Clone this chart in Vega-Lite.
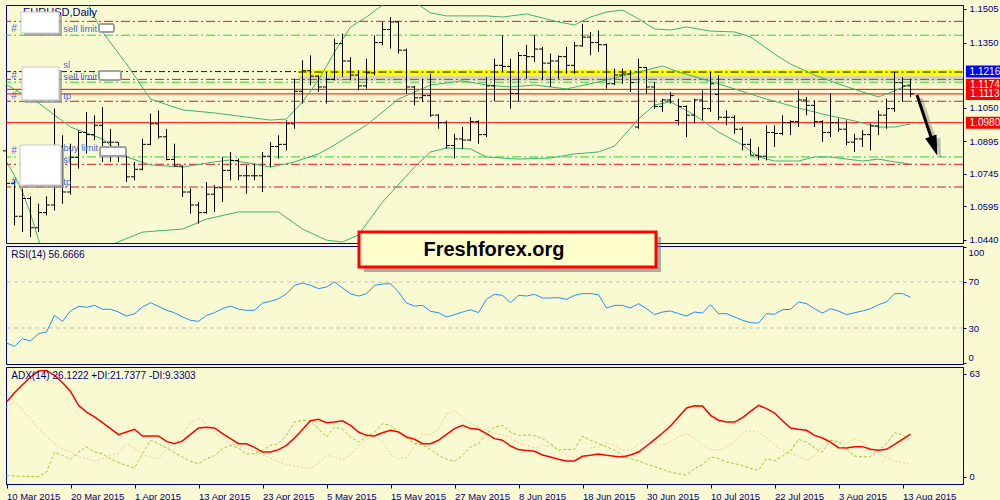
{
"$schema":"https://vega.github.io/schema/vega-lite/v6.json",
"background":"#fafad2",
"padding":{"left":2,"top":3,"right":0,"bottom":0},
"spacing":3,
"bounds":"flush",
"config":{"view":{"stroke":"#000080","strokeWidth":1,"fill":"#fafad2"},
"axis":{"domainColor":"#000080","tickColor":"#000080","labelColor":"#000080","labelFont":"Liberation Sans","labelFontSize":9.5,"grid":false,"tickSize":3,"labelOverlap":false,"labelFlush":false},
"text":{"font":"Liberation Sans"}},
"datasets":{
"bars":[
{"i":0,"o":1.0850,"h":1.0860,"l":1.0660,"c":1.0700,"rsi":17,"adx":45.7,"pdi":1,"mdi":42.7},
{"i":1,"o":1.0700,"h":1.0714,"l":1.0506,"c":1.0548,"rsi":14.1,"adx":51.4,"pdi":0.6,"mdi":46.1},
{"i":2,"o":1.0548,"h":1.0676,"l":1.0475,"c":1.0630,"rsi":20.7,"adx":56.3,"pdi":0.4,"mdi":40.7},
{"i":3,"o":1.0630,"h":1.0640,"l":1.0452,"c":1.0495,"rsi":18.7,"adx":61,"pdi":0.3,"mdi":35.2},
{"i":4,"o":1.0495,"h":1.0606,"l":1.0475,"c":1.0565,"rsi":25.1,"adx":64.6,"pdi":0.2,"mdi":29.5},
{"i":5,"o":1.0565,"h":1.0640,"l":1.0552,"c":1.0600,"rsi":26.5,"adx":65,"pdi":3,"mdi":24.4},
{"i":6,"o":1.0600,"h":1.1045,"l":1.0575,"c":1.0870,"rsi":41,"adx":62,"pdi":15.2,"mdi":20.3},
{"i":7,"o":1.0870,"h":1.0922,"l":1.0606,"c":1.0660,"rsi":35.8,"adx":57.5,"pdi":13.2,"mdi":16.9},
{"i":8,"o":1.0660,"h":1.0883,"l":1.0648,"c":1.0820,"rsi":44.8,"adx":52.2,"pdi":10.8,"mdi":15.2},
{"i":9,"o":1.0820,"h":1.0945,"l":1.0768,"c":1.0935,"rsi":48.8,"adx":43.7,"pdi":15.2,"mdi":12.6},
{"i":10,"o":1.0935,"h":1.1029,"l":1.0837,"c":1.0925,"rsi":48,"adx":39.6,"pdi":18.3,"mdi":11.2},
{"i":11,"o":1.0925,"h":1.1014,"l":1.0899,"c":1.0968,"rsi":49.7,"adx":36.6,"pdi":15.2,"mdi":9.6},
{"i":12,"o":1.0968,"h":1.1052,"l":1.0799,"c":1.0890,"rsi":46.3,"adx":33.1,"pdi":14.2,"mdi":11.2},
{"i":13,"o":1.0890,"h":1.0952,"l":1.0799,"c":1.0890,"rsi":46.3,"adx":29.5,"pdi":11.2,"mdi":13.4},
{"i":14,"o":1.0890,"h":1.0891,"l":1.0799,"c":1.0830,"rsi":43.9,"adx":25.8,"pdi":8.7,"mdi":14.2},
{"i":15,"o":1.0830,"h":1.0845,"l":1.0706,"c":1.0730,"rsi":40.4,"adx":27.4,"pdi":7.1,"mdi":20.3},
{"i":16,"o":1.0730,"h":1.0799,"l":1.0714,"c":1.0765,"rsi":42.4,"adx":29.1,"pdi":5.5,"mdi":17.7},
{"i":17,"o":1.0765,"h":1.0906,"l":1.0760,"c":1.0880,"rsi":48.3,"adx":25,"pdi":14.2,"mdi":13.6},
{"i":18,"o":1.0880,"h":1.1022,"l":1.0876,"c":1.0975,"rsi":52,"adx":25,"pdi":22.4,"mdi":12.2},
{"i":19,"o":1.0975,"h":1.1037,"l":1.0906,"c":1.0915,"rsi":48.8,"adx":25,"pdi":20.3,"mdi":11.2},
{"i":20,"o":1.0915,"h":1.0952,"l":1.0806,"c":1.0810,"rsi":45.4,"adx":21.7,"pdi":17.7,"mdi":17.3},
{"i":21,"o":1.0810,"h":1.0883,"l":1.0775,"c":1.0780,"rsi":43.3,"adx":20.3,"pdi":14.8,"mdi":20.1},
{"i":22,"o":1.0780,"h":1.0783,"l":1.0637,"c":1.0660,"rsi":39.6,"adx":22,"pdi":12.2,"mdi":25.8},
{"i":23,"o":1.0660,"h":1.0676,"l":1.0560,"c":1.0600,"rsi":36.7,"adx":26,"pdi":9.6,"mdi":33.1},
{"i":24,"o":1.0600,"h":1.0614,"l":1.0514,"c":1.0565,"rsi":35.8,"adx":29.9,"pdi":8.1,"mdi":36},
{"i":25,"o":1.0565,"h":1.0706,"l":1.0560,"c":1.0650,"rsi":41,"adx":30.3,"pdi":11.2,"mdi":32.5},
{"i":26,"o":1.0650,"h":1.0691,"l":1.0568,"c":1.0680,"rsi":43.3,"adx":29.9,"pdi":13,"mdi":27.4},
{"i":27,"o":1.0680,"h":1.0822,"l":1.0614,"c":1.0760,"rsi":46.8,"adx":26.4,"pdi":17.3,"mdi":23},
{"i":28,"o":1.0760,"h":1.0845,"l":1.0714,"c":1.0805,"rsi":49.1,"adx":23.4,"pdi":19.3,"mdi":20.3},
{"i":29,"o":1.0805,"h":1.0814,"l":1.0714,"c":1.0735,"rsi":46.3,"adx":20.3,"pdi":17.7,"mdi":18.9},
{"i":30,"o":1.0735,"h":1.0783,"l":1.0652,"c":1.0735,"rsi":45.4,"adx":20.3,"pdi":14,"mdi":17.3},
{"i":31,"o":1.0735,"h":1.0791,"l":1.0714,"c":1.0735,"rsi":45.4,"adx":18.1,"pdi":14.2,"mdi":16.1},
{"i":32,"o":1.0735,"h":1.0845,"l":1.0660,"c":1.0825,"rsi":51.7,"adx":15.2,"pdi":16.3,"mdi":13.6},
{"i":33,"o":1.0825,"h":1.0891,"l":1.0775,"c":1.0870,"rsi":53.2,"adx":15.2,"pdi":19.3,"mdi":11.6},
{"i":34,"o":1.0870,"h":1.0922,"l":1.0814,"c":1.0880,"rsi":55.5,"adx":16.7,"pdi":20.3,"mdi":9.1},
{"i":35,"o":1.0880,"h":1.0991,"l":1.0852,"c":1.0975,"rsi":59.8,"adx":19.3,"pdi":25.4,"mdi":7.7},
{"i":36,"o":1.0975,"h":1.1183,"l":1.0952,"c":1.1125,"rsi":67.1,"adx":23.8,"pdi":33.5,"mdi":6.7},
{"i":37,"o":1.1125,"h":1.1268,"l":1.1068,"c":1.1220,"rsi":69.1,"adx":28.9,"pdi":34.6,"mdi":5.9},
{"i":38,"o":1.1220,"h":1.1291,"l":1.1153,"c":1.1195,"rsi":67.1,"adx":34.3,"pdi":33.9,"mdi":5.1},
{"i":39,"o":1.1195,"h":1.1199,"l":1.1122,"c":1.1145,"rsi":64.2,"adx":35.2,"pdi":29.5,"mdi":8.5},
{"i":40,"o":1.1145,"h":1.1214,"l":1.1068,"c":1.1180,"rsi":65.7,"adx":33.1,"pdi":24.4,"mdi":13.2},
{"i":41,"o":1.1180,"h":1.1368,"l":1.1175,"c":1.1345,"rsi":70,"adx":33.5,"pdi":30.5,"mdi":12.2},
{"i":42,"o":1.1345,"h":1.1391,"l":1.1191,"c":1.1265,"rsi":64.8,"adx":34.3,"pdi":29.1,"mdi":10.6},
{"i":43,"o":1.1265,"h":1.1283,"l":1.1176,"c":1.1200,"rsi":59.8,"adx":31.5,"pdi":24.4,"mdi":13.2},
{"i":44,"o":1.1200,"h":1.1222,"l":1.1129,"c":1.1150,"rsi":57.8,"adx":27.4,"pdi":21.3,"mdi":19.3},
{"i":45,"o":1.1150,"h":1.1276,"l":1.1137,"c":1.1210,"rsi":59.8,"adx":25.4,"pdi":24.4,"mdi":22.8},
{"i":46,"o":1.1210,"h":1.1383,"l":1.1199,"c":1.1350,"rsi":67.1,"adx":25,"pdi":27.4,"mdi":25},
{"i":47,"o":1.1350,"h":1.1445,"l":1.1337,"c":1.1410,"rsi":68.3,"adx":27,"pdi":32.5,"mdi":21.3},
{"i":48,"o":1.1410,"h":1.1468,"l":1.1322,"c":1.1445,"rsi":68.5,"adx":28.5,"pdi":31.5,"mdi":14.2},
{"i":49,"o":1.1445,"h":1.1448,"l":1.1299,"c":1.1315,"rsi":61.3,"adx":27.4,"pdi":27.8,"mdi":11.2},
{"i":50,"o":1.1315,"h":1.1322,"l":1.1114,"c":1.1145,"rsi":51.7,"adx":24.4,"pdi":23.8,"mdi":12},
{"i":51,"o":1.1145,"h":1.1150,"l":1.1060,"c":1.1095,"rsi":49.1,"adx":23,"pdi":20.3,"mdi":19.3},
{"i":52,"o":1.1095,"h":1.1183,"l":1.1076,"c":1.1105,"rsi":49.7,"adx":20.3,"pdi":19.7,"mdi":26.2},
{"i":53,"o":1.1105,"h":1.1206,"l":1.1006,"c":1.1015,"rsi":44.5,"adx":20.3,"pdi":16.9,"mdi":25.8},
{"i":54,"o":1.1015,"h":1.1020,"l":1.0952,"c":1.0980,"rsi":43.3,"adx":22.4,"pdi":13.2,"mdi":29.5},
{"i":55,"o":1.0980,"h":1.0990,"l":1.0860,"c":1.0875,"rsi":39.6,"adx":26,"pdi":10.8,"mdi":38.4},
{"i":56,"o":1.0875,"h":1.0929,"l":1.0814,"c":1.0905,"rsi":41.6,"adx":29.5,"pdi":9.6,"mdi":40.4},
{"i":57,"o":1.0905,"h":1.0960,"l":1.0860,"c":1.0900,"rsi":43.9,"adx":31.5,"pdi":13.2,"mdi":36.4},
{"i":58,"o":1.0900,"h":1.1006,"l":1.0895,"c":1.0985,"rsi":45.9,"adx":29.5,"pdi":18.3,"mdi":32.5},
{"i":59,"o":1.0985,"h":1.0991,"l":1.0883,"c":1.0925,"rsi":43.3,"adx":29.1,"pdi":20.3,"mdi":30.5},
{"i":60,"o":1.0925,"h":1.1191,"l":1.0914,"c":1.1150,"rsi":55,"adx":26.4,"pdi":26.4,"mdi":28.5},
{"i":61,"o":1.1150,"h":1.1276,"l":1.1079,"c":1.1245,"rsi":59.3,"adx":23.4,"pdi":30.5,"mdi":26.4},
{"i":62,"o":1.1245,"h":1.1383,"l":1.1214,"c":1.1240,"rsi":58.4,"adx":22.4,"pdi":31.5,"mdi":25.8},
{"i":63,"o":1.1240,"h":1.1276,"l":1.1045,"c":1.1115,"rsi":52,"adx":18.9,"pdi":27.4,"mdi":23.8},
{"i":64,"o":1.1115,"h":1.1306,"l":1.1079,"c":1.1290,"rsi":58.4,"adx":16.7,"pdi":25.4,"mdi":20.7},
{"i":65,"o":1.1290,"h":1.1340,"l":1.1183,"c":1.1285,"rsi":57.8,"adx":16.1,"pdi":25.6,"mdi":19.3},
{"i":66,"o":1.1285,"h":1.1383,"l":1.1260,"c":1.1320,"rsi":59.3,"adx":15.7,"pdi":25.4,"mdi":17.7},
{"i":67,"o":1.1320,"h":1.1330,"l":1.1176,"c":1.1255,"rsi":56.1,"adx":13.4,"pdi":23.4,"mdi":19.3},
{"i":68,"o":1.1255,"h":1.1299,"l":1.1145,"c":1.1265,"rsi":56.1,"adx":12.2,"pdi":20.3,"mdi":18.9},
{"i":69,"o":1.1265,"h":1.1291,"l":1.1183,"c":1.1285,"rsi":56.4,"adx":10.8,"pdi":16.3,"mdi":16.3},
{"i":70,"o":1.1285,"h":1.1330,"l":1.1206,"c":1.1245,"rsi":54.9,"adx":9.8,"pdi":16.9,"mdi":13.6},
{"i":71,"o":1.1245,"h":1.1353,"l":1.1206,"c":1.1335,"rsi":58.4,"adx":9.8,"pdi":16.9,"mdi":11.6},
{"i":72,"o":1.1335,"h":1.1437,"l":1.1330,"c":1.1375,"rsi":59.9,"adx":12.6,"pdi":25,"mdi":14.2},
{"i":73,"o":1.1375,"h":1.1399,"l":1.1291,"c":1.1350,"rsi":59.9,"adx":13.2,"pdi":22.4,"mdi":17.7},
{"i":74,"o":1.1350,"h":1.1406,"l":1.1306,"c":1.1340,"rsi":59,"adx":14,"pdi":20.3,"mdi":18.3},
{"i":75,"o":1.1340,"h":1.1345,"l":1.1137,"c":1.1160,"rsi":47.4,"adx":13.2,"pdi":18.5,"mdi":20.9},
{"i":76,"o":1.1160,"h":1.1230,"l":1.1153,"c":1.1200,"rsi":49.7,"adx":12.6,"pdi":16.3,"mdi":19.3},
{"i":77,"o":1.1200,"h":1.1230,"l":1.1160,"c":1.1205,"rsi":49.7,"adx":12.2,"pdi":13.2,"mdi":16.7},
{"i":78,"o":1.1205,"h":1.1222,"l":1.1122,"c":1.1165,"rsi":47.4,"adx":13.4,"pdi":11.2,"mdi":16.3},
{"i":79,"o":1.0960,"h":1.1276,"l":1.0952,"c":1.1235,"rsi":51.2,"adx":15.2,"pdi":9.8,"mdi":20.3},
{"i":80,"o":1.1235,"h":1.1237,"l":1.1114,"c":1.1145,"rsi":46.8,"adx":18.9,"pdi":7.9,"mdi":22.4},
{"i":81,"o":1.1145,"h":1.1168,"l":1.1045,"c":1.1055,"rsi":41.6,"adx":22.8,"pdi":6.3,"mdi":20.5},
{"i":82,"o":1.1055,"h":1.1091,"l":1.1030,"c":1.1085,"rsi":43.9,"adx":26.8,"pdi":4.7,"mdi":19.3},
{"i":83,"o":1.1085,"h":1.1122,"l":1.1068,"c":1.1105,"rsi":44.8,"adx":31.1,"pdi":3,"mdi":21.3},
{"i":84,"o":1.0990,"h":1.1091,"l":1.0968,"c":1.1055,"rsi":42.5,"adx":36.6,"pdi":2,"mdi":24.4},
{"i":85,"o":1.1055,"h":1.1060,"l":1.0914,"c":1.1015,"rsi":40.4,"adx":42.1,"pdi":1,"mdi":26.4},
{"i":86,"o":1.1015,"h":1.1091,"l":1.0976,"c":1.1085,"rsi":43.9,"adx":43.5,"pdi":5.1,"mdi":23.8},
{"i":87,"o":1.1085,"h":1.1129,"l":1.0991,"c":1.1045,"rsi":43,"adx":43.3,"pdi":7.7,"mdi":19.3},
{"i":88,"o":1.1045,"h":1.1214,"l":1.1030,"c":1.1160,"rsi":50.3,"adx":37.6,"pdi":12.2,"mdi":16.9},
{"i":89,"o":1.1110,"h":1.1199,"l":1.0991,"c":1.1005,"rsi":42.5,"adx":34.6,"pdi":11.2,"mdi":16.3},
{"i":90,"o":1.1005,"h":1.1037,"l":1.0968,"c":1.1005,"rsi":42.5,"adx":33.5,"pdi":9.1,"mdi":18.1},
{"i":91,"o":1.1005,"h":1.1014,"l":1.0929,"c":1.0950,"rsi":39.6,"adx":33.5,"pdi":8.1,"mdi":21.7},
{"i":92,"o":1.0950,"h":1.0960,"l":1.0852,"c":1.0880,"rsi":36.7,"adx":36.2,"pdi":7.1,"mdi":27},
{"i":93,"o":1.0880,"h":1.0906,"l":1.0829,"c":1.0830,"rsi":34.6,"adx":40,"pdi":5.1,"mdi":28.3},
{"i":94,"o":1.0830,"h":1.0868,"l":1.0806,"c":1.0825,"rsi":34.3,"adx":43.7,"pdi":4.1,"mdi":27.4},
{"i":95,"o":1.0825,"h":1.0968,"l":1.0806,"c":1.0935,"rsi":42.5,"adx":41.7,"pdi":11.2,"mdi":24.2},
{"i":96,"o":1.0935,"h":1.0968,"l":1.0868,"c":1.0930,"rsi":41.9,"adx":39,"pdi":9.8,"mdi":19.3},
{"i":97,"o":1.0930,"h":1.1014,"l":1.0922,"c":1.0980,"rsi":45.9,"adx":34.3,"pdi":12.8,"mdi":16.3},
{"i":98,"o":1.0980,"h":1.0991,"l":1.0922,"c":1.0985,"rsi":46.2,"adx":29.9,"pdi":15.7,"mdi":14.2},
{"i":99,"o":1.0985,"h":1.1129,"l":1.0960,"c":1.1085,"rsi":52.6,"adx":29.1,"pdi":23,"mdi":12.8},
{"i":100,"o":1.1085,"h":1.1099,"l":1.1014,"c":1.1060,"rsi":51.2,"adx":28.5,"pdi":21.3,"mdi":10.2},
{"i":101,"o":1.1060,"h":1.1083,"l":1.0960,"c":1.0985,"rsi":46.8,"adx":25.4,"pdi":17.7,"mdi":12.8},
{"i":102,"o":1.0985,"h":1.0991,"l":1.0891,"c":1.0935,"rsi":43,"adx":23.8,"pdi":15.2,"mdi":19.3},
{"i":103,"o":1.0935,"h":1.1114,"l":1.0914,"c":1.0980,"rsi":46.8,"adx":21.3,"pdi":22.4,"mdi":22.8},
{"i":104,"o":1.0980,"h":1.0999,"l":1.0937,"c":1.0950,"rsi":44.8,"adx":17.9,"pdi":21.3,"mdi":21.3},
{"i":105,"o":1.0950,"h":1.0991,"l":1.0876,"c":1.0890,"rsi":41.6,"adx":17.7,"pdi":16.9,"mdi":20.3},
{"i":106,"o":1.0890,"h":1.0929,"l":1.0845,"c":1.0905,"rsi":43.3,"adx":18.5,"pdi":12.8,"mdi":23.4},
{"i":107,"o":1.0905,"h":1.0945,"l":1.0868,"c":1.0925,"rsi":44.8,"adx":18.5,"pdi":12.2,"mdi":21.3},
{"i":108,"o":1.0925,"h":1.0976,"l":1.0852,"c":1.0965,"rsi":46.8,"adx":16.9,"pdi":12.4,"mdi":16.3},
{"i":109,"o":1.0965,"h":1.1037,"l":1.0922,"c":1.1015,"rsi":50.3,"adx":16.3,"pdi":16.3,"mdi":14.8},
{"i":110,"o":1.1015,"h":1.1091,"l":1.0952,"c":1.1045,"rsi":52.6,"adx":16.9,"pdi":20.3,"mdi":11.6},
{"i":111,"o":1.1045,"h":1.1214,"l":1.1030,"c":1.1165,"rsi":59.9,"adx":19.9,"pdi":27,"mdi":9.6},
{"i":112,"o":1.1165,"h":1.1191,"l":1.1076,"c":1.1150,"rsi":59.9,"adx":23,"pdi":25.8,"mdi":8.7},
{"i":113,"o":1.1150,"h":1.1183,"l":1.1099,"c":1.1113,"rsi":56.7,"adx":26.1,"pdi":21.7,"mdi":8}
],
"bbu":[{"i":0,"v":1.19},{"i":5,"v":1.178},{"i":8,"v":1.165},{"i":10,"v":1.1537},{"i":12,"v":1.1399},{"i":15,"v":1.1251},{"i":18,"v":1.1089},{"i":22,"v":1.1039},{"i":26,"v":1.1025},{"i":30,"v":1.1006},{"i":33,"v":1.0992},{"i":35,"v":1.0997},{"i":37,"v":1.1076},{"i":39,"v":1.1177},{"i":41,"v":1.1306},{"i":43,"v":1.1422},{"i":45,"v":1.1468},{"i":47,"v":1.1523},{"i":49,"v":1.1551},{"i":51,"v":1.1537},{"i":53,"v":1.1487},{"i":55,"v":1.1473},{"i":57,"v":1.1473},{"i":60,"v":1.1473},{"i":62,"v":1.1468},{"i":65,"v":1.1482},{"i":69,"v":1.1445},{"i":71,"v":1.1431},{"i":73,"v":1.1468},{"i":75,"v":1.1491},{"i":77,"v":1.15},{"i":79,"v":1.1459},{"i":81,"v":1.1413},{"i":83,"v":1.1408},{"i":85,"v":1.1422},{"i":88,"v":1.1403},{"i":91,"v":1.1399},{"i":93,"v":1.1376},{"i":96,"v":1.1297},{"i":98,"v":1.1251},{"i":101,"v":1.12},{"i":104,"v":1.1159},{"i":107,"v":1.1122},{"i":109,"v":1.1099},{"i":111,"v":1.1127},{"i":113,"v":1.1159}],
"bbm":[{"i":0,"v":1.1155},{"i":4,"v":1.1071},{"i":8,"v":1.096},{"i":12,"v":1.0905},{"i":15,"v":1.0822},{"i":18,"v":1.0785},{"i":22,"v":1.0775},{"i":26,"v":1.0799},{"i":28,"v":1.0808},{"i":31,"v":1.0789},{"i":33,"v":1.0775},{"i":36,"v":1.0799},{"i":39,"v":1.0836},{"i":41,"v":1.0877},{"i":45,"v":1.0969},{"i":49,"v":1.1089},{"i":53,"v":1.1154},{"i":57,"v":1.1173},{"i":60,"v":1.1154},{"i":63,"v":1.1145},{"i":66,"v":1.1154},{"i":70,"v":1.1136},{"i":74,"v":1.1168},{"i":78,"v":1.1205},{"i":82,"v":1.1242},{"i":84,"v":1.1214},{"i":87,"v":1.1182},{"i":91,"v":1.1136},{"i":95,"v":1.1089},{"i":99,"v":1.1048},{"i":102,"v":1.102},{"i":106,"v":1.0988},{"i":109,"v":1.096},{"i":111,"v":1.096},{"i":113,"v":1.0974}],
"bbl":[{"i":0,"v":1.08},{"i":1,"v":1.0735},{"i":2,"v":1.066},{"i":3,"v":1.056},{"i":4,"v":1.044},{"i":5,"v":1.03},{"i":8,"v":1.025},{"i":11,"v":1.03},{"i":13,"v":1.0415},{"i":17,"v":1.0475},{"i":22,"v":1.0489},{"i":25,"v":1.0535},{"i":29,"v":1.0568},{"i":34,"v":1.0568},{"i":37,"v":1.0489},{"i":40,"v":1.0438},{"i":42,"v":1.0429},{"i":44,"v":1.0462},{"i":47,"v":1.0614},{"i":51,"v":1.0775},{"i":53,"v":1.0845},{"i":55,"v":1.0863},{"i":58,"v":1.0859},{"i":60,"v":1.0822},{"i":64,"v":1.0812},{"i":68,"v":1.0817},{"i":71,"v":1.0836},{"i":74,"v":1.0845},{"i":76,"v":1.0872},{"i":79,"v":1.0997},{"i":81,"v":1.1062},{"i":83,"v":1.1076},{"i":86,"v":1.1016},{"i":89,"v":1.0937},{"i":92,"v":1.0877},{"i":94,"v":1.0822},{"i":96,"v":1.0803},{"i":99,"v":1.0803},{"i":101,"v":1.0822},{"i":103,"v":1.0822},{"i":105,"v":1.0812},{"i":107,"v":1.0803},{"i":109,"v":1.0812},{"i":111,"v":1.0799},{"i":113,"v":1.0789}]
},
"vconcat":[
{"width":957,"height":238,
"resolve":{"axis":{"x":"independent","y":"independent"}},
"layer":[
{"data":{"values":[{"p":1.1448},{"p":1.118},{"p":1.1079},{"p":1.0788},{"p":1.0683}]},"mark":{"type":"rule","color":"#e0102a","strokeWidth":1,"strokeDash":[9,3,2,3]},
 "encoding":{"y":{"field":"p","type":"quantitative","scale":{"domain":[1.04246,1.15234],"nice":false,"zero":false},"axis":{"orient":"right","values":[1.044,1.0595,1.0745,1.0895,1.105,1.135,1.1505],"format":".4f","title":null,"labelPadding":3}}}},
{"data":{"values":[{"p":1.1384},{"p":1.1167},{"p":1.0822}]},"mark":{"type":"rule","color":"#32cd32","strokeWidth":1,"strokeDash":[9,3,2,3]},"encoding":{"y":{"field":"p","type":"quantitative","axis":null}}},
{"data":{"values":[{"p":1.1216}]},"mark":{"type":"rule","color":"#0000ff","strokeWidth":1,"strokeDash":[6,3,2,3]},"encoding":{"y":{"field":"p","type":"quantitative","axis":null}}},
{"data":{"values":[{}]},"mark":{"type":"rect","color":"#808080","opacity":0.3,"clip":false},"encoding":{"x":{"datum":36.5,"scale":{"domain":[-0.0625,119.5625],"nice":false,"zero":false},"axis":null},"x2":{"datum":119.5625},"y":{"datum":1.1197,"axis":null},"y2":{"datum":1.1174}}},
{"data":{"values":[{}]},"mark":{"type":"rect","color":"#ffff00","opacity":1},"encoding":{"x":{"datum":36.5,"axis":null},"x2":{"datum":119.5625},"y":{"datum":1.1224,"axis":null},"y2":{"datum":1.1197}}},
{"data":{"values":[{}]},"mark":{"type":"rule","color":"#000000","strokeWidth":1,"strokeDash":[8,3,2,3]},"encoding":{"x":{"datum":36.5,"axis":null},"x2":{"datum":119.5625},"y":{"datum":1.1214,"axis":null}}},
{"data":{"values":[{"p":1.1134},{"p":1.1113},{"p":1.098}]},"mark":{"type":"rule","color":"#ff0000","strokeWidth":1},"encoding":{"y":{"field":"p","type":"quantitative","axis":null}}},
{"data":{"name":"bbu"},"mark":{"type":"line","color":"#3cb371","strokeWidth":1,"clip":true},"encoding":{"x":{"field":"i","type":"quantitative","scale":{"domain":[-0.0625,119.5625],"nice":false,"zero":false},"axis":null},"y":{"field":"v","type":"quantitative","axis":null}}},
{"data":{"name":"bbm"},"mark":{"type":"line","color":"#3cb371","strokeWidth":1,"clip":true},"encoding":{"x":{"field":"i","type":"quantitative","axis":null},"y":{"field":"v","type":"quantitative","axis":null}}},
{"data":{"name":"bbl"},"mark":{"type":"line","color":"#3cb371","strokeWidth":1,"clip":true},"encoding":{"x":{"field":"i","type":"quantitative","axis":null},"y":{"field":"v","type":"quantitative","axis":null}}},
{"data":{"name":"bars"},"mark":{"type":"rule","color":"#000000","strokeWidth":1},"encoding":{"x":{"field":"i","type":"quantitative","axis":null},"y":{"field":"l","type":"quantitative","axis":null},"y2":{"field":"h"}}},
{"data":{"name":"bars"},"mark":{"type":"tick","orient":"horizontal","thickness":1,"xOffset":-2,"color":"#000000","opacity":1},"encoding":{"x":{"field":"i","type":"quantitative","axis":null},"y":{"field":"o","type":"quantitative","axis":null},"size":{"value":3}}},
{"data":{"name":"bars"},"mark":{"type":"tick","orient":"horizontal","thickness":1,"xOffset":2,"color":"#000000","opacity":1},"encoding":{"x":{"field":"i","type":"quantitative","axis":null},"y":{"field":"c","type":"quantitative","axis":null},"size":{"value":3}}},
{"data":{"values":[{}]},"mark":{"type":"text","text":"EURUSD,Daily","color":"#000080","fontSize":11,"align":"left","baseline":"middle"},"encoding":{"x":{"datum":2.06,"axis":null},"y":{"datum":1.14865,"axis":null}}},
{"data":{"values":[{"p":1.14126},{"p":1.11956},{"p":1.11033},{"p":1.08494},{"p":1.07062}]},"mark":{"type":"text","text":"#","color":"#4169e1","fontSize":10,"align":"center","baseline":"middle"},"encoding":{"x":{"datum":0.94,"axis":null},"y":{"field":"p","type":"quantitative","axis":null}}},
{"data":{"values":[{"t":"sell limit","p":1.14126},{"t":"sl","p":1.12464},{"t":"sell limit","p":1.1191},{"t":"tp","p":1.11033},{"t":"buy limit","p":1.08632},{"t":"sl","p":1.08078},{"t":"tp","p":1.07062}]},"mark":{"type":"text","color":"#4169e1","fontSize":9.5,"align":"left","baseline":"middle"},"encoding":{"x":{"datum":7.1,"axis":null},"y":{"field":"p","type":"quantitative","axis":null},"text":{"field":"t"}}},
{"data":{"values":[{}]},"mark":{"type":"rect","color":"#9a9a9a","opacity":0.8,"xOffset":3,"x2Offset":3,"yOffset":3,"y2Offset":3},"encoding":{"x":{"datum":1.81,"axis":null},"x2":{"datum":6.56},"y":{"datum":1.14911,"axis":null},"y2":{"datum":1.13942}}},
{"data":{"values":[{}]},"mark":{"type":"rect","fill":"#ffffff","stroke":"#c8c8c8","strokeWidth":1,"opacity":1},"encoding":{"x":{"datum":1.81,"axis":null},"x2":{"datum":6.56},"y":{"datum":1.14911,"axis":null},"y2":{"datum":1.13942}}},
{"data":{"values":[{}]},"mark":{"type":"rect","color":"#9a9a9a","opacity":0.8,"xOffset":3,"x2Offset":3,"yOffset":3,"y2Offset":3},"encoding":{"x":{"datum":1.94,"axis":null},"x2":{"datum":6.56},"y":{"datum":1.12372,"axis":null},"y2":{"datum":1.10849}}},
{"data":{"values":[{}]},"mark":{"type":"rect","fill":"#ffffff","stroke":"#c8c8c8","strokeWidth":1,"opacity":1},"encoding":{"x":{"datum":1.94,"axis":null},"x2":{"datum":6.56},"y":{"datum":1.12372,"axis":null},"y2":{"datum":1.10849}}},
{"data":{"values":[{}]},"mark":{"type":"rect","color":"#9a9a9a","opacity":0.8,"xOffset":3,"x2Offset":3,"yOffset":3,"y2Offset":3},"encoding":{"x":{"datum":1.69,"axis":null},"x2":{"datum":6.81},"y":{"datum":1.08771,"axis":null},"y2":{"datum":1.06924}}},
{"data":{"values":[{}]},"mark":{"type":"rect","fill":"#ffffff","stroke":"#c8c8c8","strokeWidth":1,"opacity":1},"encoding":{"x":{"datum":1.69,"axis":null},"x2":{"datum":6.81},"y":{"datum":1.08771,"axis":null},"y2":{"datum":1.06924}}},
{"data":{"values":[{}]},"mark":{"type":"rect","fill":"#ffffff","stroke":"#a0a0a0","strokeWidth":2,"cornerRadius":2,"opacity":1},"encoding":{"x":{"datum":11.56,"axis":null},"x2":{"datum":13.44},"y":{"datum":1.14357,"axis":null},"y2":{"datum":1.13988}}},
{"data":{"values":[{}]},"mark":{"type":"rect","fill":"#ffffff","stroke":"#a0a0a0","strokeWidth":2,"cornerRadius":2,"opacity":1},"encoding":{"x":{"datum":11.56,"axis":null},"x2":{"datum":14.31},"y":{"datum":1.12187,"axis":null},"y2":{"datum":1.11772}}},
{"data":{"values":[{}]},"mark":{"type":"rect","fill":"#ffffff","stroke":"#a0a0a0","strokeWidth":2,"cornerRadius":2,"opacity":1},"encoding":{"x":{"datum":11.69,"axis":null},"x2":{"datum":14.94},"y":{"datum":1.08679,"axis":null},"y2":{"datum":1.08263}}},
{"data":{"values":[{}]},"mark":{"type":"rule","color":"#808080","opacity":0.45,"strokeWidth":3,"xOffset":4,"x2Offset":4,"yOffset":3,"y2Offset":3},"encoding":{"x":{"datum":113.81,"axis":null},"y":{"datum":1.11079,"axis":null},"x2":{"datum":115.81},"y2":{"datum":1.08863}}},
{"data":{"values":[{}]},"mark":{"type":"point","shape":"M-0.6,-1L0.6,-1L0,1Z","filled":true,"color":"#808080","opacity":0.45,"angle":341.3,"size":400,"xOffset":4,"yOffset":3},"encoding":{"x":{"datum":115.94,"axis":null},"y":{"datum":1.08725,"axis":null}}},
{"data":{"values":[{}]},"mark":{"type":"rule","color":"#000000","strokeWidth":3},"encoding":{"x":{"datum":113.81,"axis":null},"y":{"datum":1.11079,"axis":null},"x2":{"datum":115.81},"y2":{"datum":1.08863}}},
{"data":{"values":[{}]},"mark":{"type":"point","shape":"M-0.6,-1L0.6,-1L0,1Z","filled":true,"color":"#000000","opacity":1,"angle":341.3,"size":400},"encoding":{"x":{"datum":115.94,"axis":null},"y":{"datum":1.08725,"axis":null}}},
{"data":{"values":[{"p":1.1216,"t":"1.1216"}]},"mark":{"type":"point","shape":"M-1,-0.3158H1V0.3158H-1Z","filled":true,"color":"#0000ff","opacity":1,"size":1444,"clip":false},"encoding":{"x":{"datum":122.3,"axis":null},"y":{"field":"p","type":"quantitative","axis":null}}},
{"data":{"values":[{"p":1.1216,"t":"1.1216"}]},"mark":{"type":"text","color":"#ffffff","fontSize":10,"align":"center","baseline":"middle","clip":false},"encoding":{"x":{"datum":122.3,"axis":null},"y":{"field":"p","type":"quantitative","axis":null},"text":{"field":"t"}}},
{"data":{"values":[{"p":1.1174,"t":"1.1174"}]},"mark":{"type":"point","shape":"M-1,-0.3158H1V0.3158H-1Z","filled":true,"color":"#ff0000","opacity":1,"size":1444,"yOffset":4,"clip":false},"encoding":{"x":{"datum":122.3,"axis":null},"y":{"field":"p","type":"quantitative","axis":null}}},
{"data":{"values":[{"p":1.1174,"t":"1.1174"}]},"mark":{"type":"text","color":"#ffffff","fontSize":10,"align":"center","baseline":"middle","yOffset":4,"clip":false},"encoding":{"x":{"datum":122.3,"axis":null},"y":{"field":"p","type":"quantitative","axis":null},"text":{"field":"t"}}},
{"data":{"values":[{"p":1.1113,"t":"1.1113"},{"p":1.098,"t":"1.0980"}]},"mark":{"type":"point","shape":"M-1,-0.3158H1V0.3158H-1Z","filled":true,"color":"#ff0000","opacity":1,"size":1444,"clip":false},"encoding":{"x":{"datum":122.3,"axis":null},"y":{"field":"p","type":"quantitative","axis":null}}},
{"data":{"values":[{"p":1.1113,"t":"1.1113"},{"p":1.098,"t":"1.0980"}]},"mark":{"type":"text","color":"#ffffff","fontSize":10,"align":"center","baseline":"middle","clip":false},"encoding":{"x":{"datum":122.3,"axis":null},"y":{"field":"p","type":"quantitative","axis":null},"text":{"field":"t"}}}
]},
{"width":957,"height":118,
"resolve":{"axis":{"x":"independent","y":"independent"}},
"layer":[
{"data":{"values":[{"v":70},{"v":30}]},"mark":{"type":"rule","color":"#c0c0c0","strokeWidth":1,"strokeDash":[4,3]},"encoding":{"y":{"field":"v","type":"quantitative","scale":{"domain":[-1.3,101.3],"nice":false,"zero":false},"axis":{"orient":"right","values":[0,30,70,100],"title":null,"labelPadding":2,"labelBaseline":{"condition":[{"test":"datum.value == 100","value":"top"},{"test":"datum.value == 0","value":"bottom"}],"value":"middle"}}}}},
{"data":{"name":"bars"},"mark":{"type":"line","color":"#1e90ff","strokeWidth":1},"encoding":{"x":{"field":"i","type":"quantitative","scale":{"domain":[-0.0625,119.5625],"nice":false,"zero":false},"axis":null},"y":{"field":"rsi","type":"quantitative","axis":null}}},
{"data":{"values":[{}]},"mark":{"type":"text","text":"RSI(14) 56.6666","color":"#000080","fontSize":10,"align":"left","baseline":"middle"},"encoding":{"x":{"datum":0.6,"axis":null},"y":{"datum":93.5,"axis":null}}},
{"data":{"values":[{}]},"mark":{"type":"rect","color":"#7a7a7a","opacity":0.6,"xOffset":5,"x2Offset":5,"yOffset":5,"y2Offset":5,"clip":false},"encoding":{"x":{"datum":44.06,"axis":null},"x2":{"datum":81.19},"y":{"datum":113.5,"axis":null},"y2":{"datum":83}}},
{"data":{"values":[{}]},"mark":{"type":"rect","fill":"#ffffcc","stroke":"#ff0000","strokeWidth":3,"opacity":1,"clip":false},"encoding":{"x":{"datum":44.06,"axis":null},"x2":{"datum":81.19},"y":{"datum":113.5,"axis":null},"y2":{"datum":83}}},
{"data":{"values":[{}]},"mark":{"type":"text","text":"Freshforex.org","fontWeight":"bold","fontSize":20,"color":"#000000","align":"center","baseline":"middle","clip":false},"encoding":{"x":{"datum":60.94,"axis":null},"y":{"datum":97.8,"axis":null}}}
]},
{"width":957,"height":117,
"resolve":{"axis":{"x":"independent","y":"independent"}},
"layer":[
{"data":{"name":"bars"},"mark":{"type":"line","color":"#f5c6a0","strokeWidth":1,"strokeDash":[2,2]},"encoding":{"x":{"field":"i","type":"quantitative","scale":{"domain":[-0.0625,119.5625],"nice":false,"zero":false},"axis":{"values":[0,8,16,24,32,40,48,56,64,72,80,88,96,104,112],"labelExpr":"['10 Mar 2015','20 Mar 2015','1 Apr 2015','13 Apr 2015','23 Apr 2015','5 May 2015','15 May 2015','27 May 2015','8 Jun 2015','18 Jun 2015','30 Jun 2015','10 Jul 2015','22 Jul 2015','3 Aug 2015','13 Aug 2015'][round(datum.value/8)]","labelAlign":"left","labelPadding":3,"tickSize":4,"title":null}},"y":{"field":"mdi","type":"quantitative","scale":{"domain":[-4.27,67.07],"nice":false,"zero":false},"axis":{"orient":"right","values":[0,63],"title":null,"labelPadding":3}}}},
{"data":{"name":"bars"},"mark":{"type":"line","color":"#9acd32","strokeWidth":1,"strokeDash":[3,2]},"encoding":{"x":{"field":"i","type":"quantitative","axis":null},"y":{"field":"pdi","type":"quantitative","axis":null}}},
{"data":{"name":"bars"},"mark":{"type":"line","color":"#ff0000","strokeWidth":1.5},"encoding":{"x":{"field":"i","type":"quantitative","axis":null},"y":{"field":"adx","type":"quantitative","axis":null}}},
{"data":{"values":[{}]},"mark":{"type":"text","text":"ADX(14) 26.1222 +DI:21.7377 -DI:9.3303","color":"#000080","fontSize":10,"align":"left","baseline":"middle"},"encoding":{"x":{"datum":0.6,"axis":null},"y":{"datum":61.6,"axis":null}}}
]}
]
}
